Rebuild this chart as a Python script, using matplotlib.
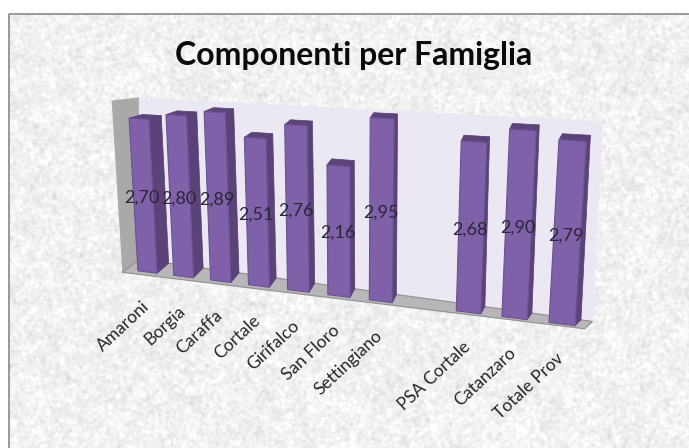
#!/usr/bin/env python3
import matplotlib as mpl
mpl.use('Agg')
import matplotlib.pyplot as plt
import numpy as np
from matplotlib.patches import Polygon

categories = ["Amaroni", "Borgia", "Caraffa", "Cortale", "Girifalco", "San Floro",
              "Settingiano", "", "PSA Cortale", "Catanzaro", "Totale Prov"]
values = [2.70, 2.80, 2.89, 2.51, 2.76, 2.16, 2.95, None, 2.68, 2.90, 2.79]
value_labels = ["2,70", "2,80", "2,89", "2,51", "2,76", "2,16", "2,95", "", "2,68", "2,90", "2,79"]

plt.rcParams['font.family'] = ['Lato', 'DejaVu Sans']


def homography(src, dst):
    # plane coords -> image pixels, from four corners
    rows = []
    rhs = []
    for (u, v), (x, y) in zip(src, dst):
        rows.append([u, v, 1, 0, 0, 0, -u * x, -v * x])
        rows.append([0, 0, 0, u, v, 1, -u * y, -v * y])
        rhs += [x, y]
    h = np.linalg.solve(np.array(rows, float), np.array(rhs, float))
    return np.append(h, 1).reshape(3, 3)


corners = [(0, 0), (10, 0), (0, 3), (10, 3)]
front = homography(corners, [(147.5, 272), (562, 324), (138, 101), (573.5, 126)])
back = homography(corners, [(159.5, 262), (567.5, 318), (151, 98), (577, 120)])


def project(u, v, d=0.0):
    # d = 0 front plane of the bars, d = 1 back plane
    p = np.array([u, v, 1.0])
    a = front @ p
    b = back @ p
    return (a[:2] / a[2]) * (1 - d) + (b[:2] / b[2]) * d


def poly(points, **kw):
    ax.add_patch(Polygon([project(*p) for p in points], closed=True, **kw))


fig = plt.figure(figsize=(6.89, 4.48), dpi=100)
ax = fig.add_axes([0, 0, 1, 1])

# mottled paper background
rng = np.random.default_rng(4)
h, w = 448 - 14, 689 - 8
fy = np.fft.fftfreq(h)[:, None]
fx = np.fft.rfftfreq(w)[None, :]
fine = np.fft.irfft2(np.fft.rfft2(rng.normal(size=(h, w))) * np.exp(-(fx**2 + fy**2) * 2 * (np.pi * 1.2)**2), s=(h, w))
coarse = np.fft.irfft2(np.fft.rfft2(rng.normal(size=(h, w))) * np.exp(-(fx**2 + fy**2) * 2 * (np.pi * 5)**2), s=(h, w))
paper = 0.945 + fine / fine.std() * 0.022 + coarse / coarse.std() * 0.008
ax.imshow(np.clip(paper, 0, 1), cmap='gray', vmin=0, vmax=1, extent=(8, 689, 448, 14), zorder=0, aspect='auto')
ax.set_xlim(0, 689)
ax.set_ylim(448, 0)
ax.axis('off')
ax.plot([8.5, 8.5, 689], [448, 14.5, 14.5], color='#8a8a8a', lw=1.2, zorder=1)

# walls and floor
u0, u1, top = -0.6, 10.5, 3.0
poly([(u0, 0, 1), (u1, 0, 1), (u1, top, 1), (-0.35, top, 1)], fc='#ece8f3', ec='none', zorder=1)
poly([(u0, 0, -0.3), (u0, 0, 1), (-0.35, top, 1), (u0, top, -0.3)], fc='#a9a9a9', ec='none', zorder=2)
poly([(u0, 0, -0.3), (u1, 0, -0.3), (u1, 0, 1), (u0, 0, 1)], fc='#b8b6b9', ec='#8f8f8f', lw=0.8, zorder=2)

hw = 0.27
for i, val in enumerate(values):
    if val is None:
        continue
    l, r = i - hw, i + hw
    poly([(r, 0, 0), (r, 0, 1), (r, val, 1), (r, val, 0)], fc='#5b4379', ec='#54406f', lw=0.5, zorder=3)
    poly([(l, val, 0), (r, val, 0), (r, val, 1), (l, val, 1)], fc='#5c447b', ec='#54406f', lw=0.5, zorder=3)
    poly([(l, 0, 0), (r, 0, 0), (r, val, 0), (l, val, 0)], fc='#7f61a9', ec='#6b5192', lw=0.8, zorder=4)

    x, y = project(i, val / 2)
    ax.text(x - 1, y + 1, value_labels[i], ha='center', va='center', fontsize=13, color='#2b2538', zorder=5)

for i, name in enumerate(categories):
    if not name:
        continue
    x, y = project(i, 0)
    ax.text(x - 1, y + 32, name, rotation=43, rotation_mode='anchor', ha='right', va='center',
            fontsize=12.5, color='#262626', zorder=5)

ax.text(354, 55, "Componenti per Famiglia", ha='center', va='center', fontsize=23,
        fontweight='bold', color='#0a0a0a', zorder=5)

fig.savefig('out.png', dpi=100)
